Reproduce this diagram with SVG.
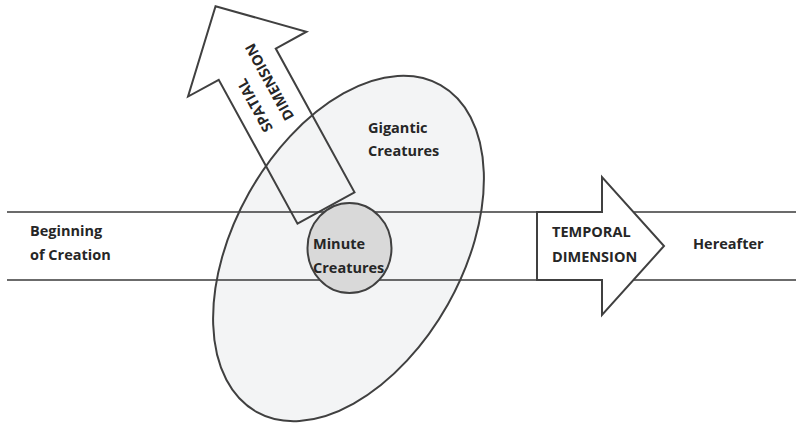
<svg xmlns="http://www.w3.org/2000/svg" width="796" height="424" viewBox="0 0 796 424">
<style>
.t{font-family:"Open Sans","Liberation Sans",sans-serif;font-size:14.5px;font-weight:700;fill:#262626}
.ln{stroke:#3a3a3a;stroke-width:1.6;fill:none}
.ol{stroke:#404040;stroke-width:2;fill:none;stroke-linejoin:miter}
</style>
<rect width="796" height="424" fill="#ffffff"/>
<g id="spatial-arrow-fill" transform="translate(326,208) rotate(-28.7)">
<polygon points="-32.5,0 32.5,0 32.5,-164 67.5,-164 0,-230 -67.5,-164 -32.5,-164" fill="#ffffff"/>
</g>
<g id="gigantic-creatures-fill">
<ellipse cx="348.5" cy="248.5" rx="114" ry="187.5" transform="rotate(29.4 348.5 248.5)" fill="#f3f4f5"/>
</g>
<g id="spatial-dimension" transform="translate(326,208) rotate(-28.7)">
<polygon class="ol" points="-32.5,0 32.5,0 32.5,-164 67.5,-164 0,-230 -67.5,-164 -32.5,-164"/>
<g transform="rotate(-90)">
<text class="t" x="95" y="-8">SPATIAL</text>
<text class="t" x="95" y="16">DIMENSION</text>
</g>
</g>
<g id="connectors">
<line class="ln" x1="7" y1="212" x2="796" y2="212"/>
<line class="ln" x1="7" y1="280" x2="796" y2="280"/>
</g>
<g id="gigantic-creatures">
<ellipse class="ol" cx="348.5" cy="248.5" rx="114" ry="187.5" transform="rotate(29.4 348.5 248.5)"/>
<text class="t" x="368" y="133">Gigantic</text>
<text class="t" x="368" y="156">Creatures</text>
</g>
<g id="minute-creatures">
<ellipse cx="349.5" cy="248" rx="42" ry="45" fill="#d9d9d9" stroke="#404040" stroke-width="2"/>
<text class="t" x="313" y="249">Minute</text>
<text class="t" x="313" y="273">Creatures</text>
</g>
<g id="temporal-dimension">
<polygon points="537,212 602,212 602,177 664,246 602,315 602,280 537,280" fill="#ffffff" stroke="#404040" stroke-width="2"/>
<text class="t" x="552" y="237">TEMPORAL</text>
<text class="t" x="552" y="262">DIMENSION</text>
</g>
<g id="beginning">
<text class="t" x="30" y="236">Beginning</text>
<text class="t" x="30" y="260">of Creation</text>
</g>
<g id="hereafter">
<text class="t" x="693" y="249">Hereafter</text>
</g>
</svg>
